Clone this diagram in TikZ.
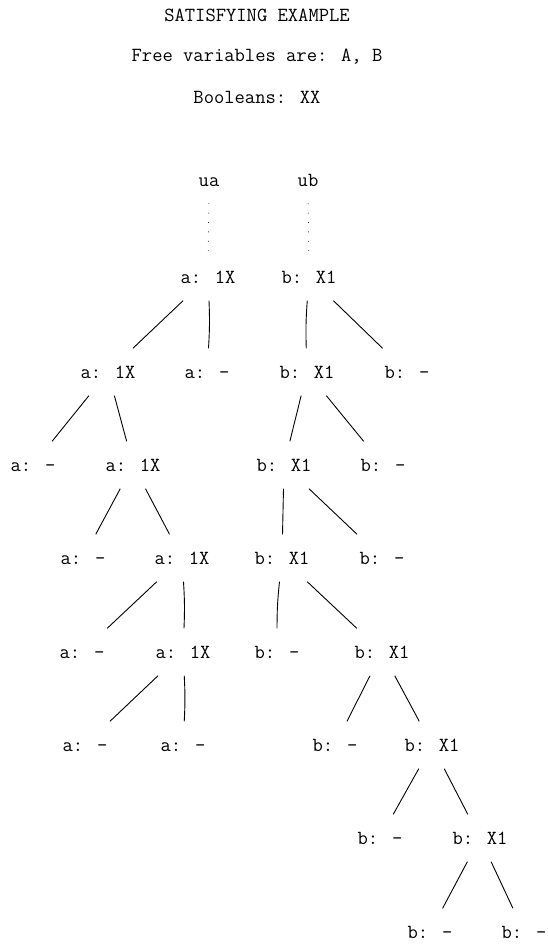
\documentclass[tikz,border=0pt]{standalone}
\usepackage{fontspec}
\begin{document}
\begin{tikzpicture}[x=1pt,y=-1pt,
  lbl/.style={inner sep=0pt, font=\ttfamily\fontsize{20}{24}\selectfont, text height=12.2pt, text depth=0pt},
  tn/.style={lbl, minimum width=56pt, minimum height=47pt},
  edge/.style={draw=black, line width=0.9pt},
  dotedge/.style={draw=black, line width=0.9pt, line cap=round, dash pattern=on 0pt off 9.4pt}]
\useasboundingbox (0,0) rectangle (547,952);
\node[lbl] (title) at (257,15) {SATISFYING EXAMPLE};
\node[lbl] (free) at (257,55) {Free variables are: A, B};
\node[lbl] (bools) at (257,97) {Booleans: XX};
% a side
\node[tn] (ua) at (209,180) {ua};
\node[tn] (a1) at (208,277) {a: 1X};
\node[tn] (a2) at (108,372) {a: 1X};
\node[tn] (am1) at (207,372) {a: -};
\node[tn] (am2) at (33,465) {a: -};
\node[tn] (a3) at (133,465) {a: 1X};
\node[tn] (am3) at (83,558) {a: -};
\node[tn] (a4) at (182,558) {a: 1X};
\node[tn] (am4) at (82,652) {a: -};
\node[tn] (a5) at (183,652) {a: 1X};
\node[tn] (am5) at (85,745) {a: -};
\node[tn] (am6) at (183,745) {a: -};
% b side
\node[tn] (ub) at (308,180) {ub};
\node[tn] (b1) at (309,277) {b: X1};
\node[tn] (b2) at (307,372) {b: X1};
\node[tn] (bm1) at (407,372) {b: -};
\node[tn] (b3) at (284,465) {b: X1};
\node[tn] (bm2) at (383,465) {b: -};
\node[tn] (b4) at (282,558) {b: X1};
\node[tn] (bm3) at (382,558) {b: -};
\node[tn] (bm4) at (277,652) {b: -};
\node[tn] (b5) at (382,652) {b: X1};
\node[tn] (bm5) at (335,745) {b: -};
\node[tn] (b6) at (432,745) {b: X1};
\node[tn] (bm6) at (380,838) {b: -};
\node[tn] (b7) at (480,838) {b: X1};
\node[tn] (bm7) at (430,932) {b: -};
\node[tn] (bm8) at (524,932) {b: -};
% edges
\draw[dotedge] (ua) -- (a1);
\draw[dotedge] (ub) -- (b1);
\draw[edge] (a1) -- (a2);
\draw[edge] (a1) to[bend left=3] (am1);
\draw[edge] (a2) -- (am2);
\draw[edge] (a2) -- (a3);
\draw[edge] (a3) -- (am3);
\draw[edge] (a3) -- (a4);
\draw[edge] (a4) -- (am4);
\draw[edge] (a4) to[bend left=3] (a5);
\draw[edge] (a5) -- (am5);
\draw[edge] (a5) to[bend left=3] (am6);
\draw[edge] (b1) to[bend right=3] (b2);
\draw[edge] (b1) -- (bm1);
\draw[edge] (b2) -- (b3);
\draw[edge] (b2) -- (bm2);
\draw[edge] (b3) -- (b4);
\draw[edge] (b3) -- (bm3);
\draw[edge] (b4) to[bend right=3] (bm4);
\draw[edge] (b4) -- (b5);
\draw[edge] (b5) -- (bm5);
\draw[edge] (b5) -- (b6);
\draw[edge] (b6) -- (bm6);
\draw[edge] (b6) -- (b7);
\draw[edge] (b7) -- (bm7);
\draw[edge] (b7) -- (bm8);
\end{tikzpicture}
\end{document}
